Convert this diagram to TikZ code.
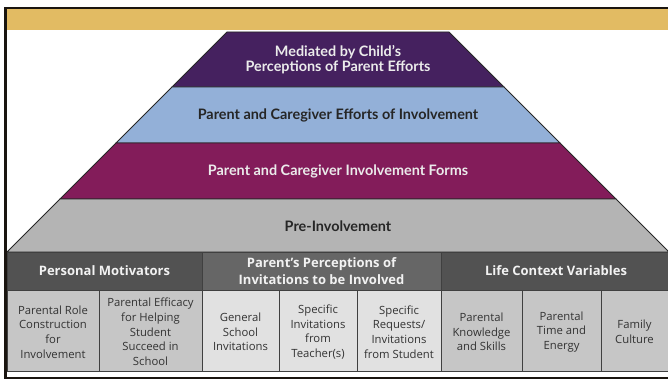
\documentclass[tikz,border=0pt]{standalone}
\usepackage{fontspec}
\newfontfamily\lato{Lato}
\newfontfamily\osans{Open Sans}
\definecolor{gold}{HTML}{E2BB63}
\definecolor{purp}{HTML}{45215F}
\definecolor{lblue}{HTML}{93B0D8}
\definecolor{magen}{HTML}{831C5A}
\definecolor{pgray}{HTML}{B4B4B4}
\definecolor{hdrA}{HTML}{525252}
\definecolor{hdrB}{HTML}{666666}
\definecolor{cellA}{HTML}{C6C6C6}
\definecolor{cellB}{HTML}{E1E1E1}
\definecolor{frame}{HTML}{1A1510}
\definecolor{celltext}{HTML}{333333}
\tikzset{
  band/.style={draw=black!85, line width=0.8pt, line join=miter},
  pyrlight/.style={font=\lato\bfseries\fontsize{14.4}{15.2}\selectfont, text=white!92!black, align=center, inner sep=0pt},
  pyrdark/.style={font=\lato\bfseries\fontsize{14.4}{15.2}\selectfont, text=black!85, align=center, inner sep=0pt},
  hdrbox/.style={draw=black!75, line width=0.6pt},
  cellbox/.style={draw=black!75, line width=0.6pt},
  hdrtext/.style={font=\osans\bfseries\fontsize{13}{16.8}\selectfont, text=white!95!black, align=center, inner sep=0pt},
  celltxt/.style={font=\osans\fontsize{11.3}{14.7}\selectfont, text=celltext, align=center, inner sep=0pt}
}
\begin{document}
\begin{tikzpicture}[x=1pt,y=-1pt]
\useasboundingbox (0,0) rectangle (668,382);
\fill[white] (0,0) rectangle (668,382);
% gold band
\fill[gold] (7,9.5) rectangle (668,30.5);
% pyramid bands
\filldraw[band, fill=purp]  (227,32) -- (449,32) -- (504,87) -- (172,87) -- cycle;
\filldraw[band, fill=lblue] (172,87) -- (504,87) -- (560,143) -- (116,143) -- cycle;
\filldraw[band, fill=magen] (116,143) -- (560,143) -- (616,199) -- (60,199) -- cycle;
\filldraw[band, fill=pgray] (60,199) -- (616,199) -- (669,252) -- (7,252) -- cycle;
\node[pyrlight] (p1) at (338,60) {Mediated by Child’s\\Perceptions of Parent Efforts};
\node[pyrdark]  (p2) at (338,115) {Parent and Caregiver Efforts of Involvement};
\node[pyrlight] (p3) at (338,171) {Parent and Caregiver Involvement Forms};
\node[pyrdark]  (p4) at (338,226) {Pre-Involvement};
% table headers
\filldraw[hdrbox, fill=hdrA] (7,252) rectangle (202,290);
\filldraw[hdrbox, fill=hdrB] (202,252) rectangle (441,290);
\filldraw[hdrbox, fill=hdrA] (441,252) rectangle (672,290);
\node[hdrtext] (h1) at (104.5,271) {Personal Motivators};
\node[hdrtext] (h2) at (321.5,271) {Parent’s Perceptions of\\Invitations to be Involved};
\node[hdrtext] (h3) at (556,271) {Life Context Variables};
% cells
\filldraw[cellbox, fill=cellA] (7,290) rectangle (99,371);
\filldraw[cellbox, fill=cellA] (99,290) rectangle (202,371);
\filldraw[cellbox, fill=cellB] (202,290) rectangle (279,371);
\filldraw[cellbox, fill=cellB] (279,290) rectangle (357,371);
\filldraw[cellbox, fill=cellB] (357,290) rectangle (441,371);
\filldraw[cellbox, fill=cellA] (441,290) rectangle (522,371);
\filldraw[cellbox, fill=cellA] (522,290) rectangle (601,371);
\filldraw[cellbox, fill=cellA] (601,290) rectangle (672,371);
\node[celltxt] (c1) at (53,332) {Parental Role\\Construction\\for\\Involvement};
\node[celltxt] (c2) at (150.5,332) {Parental Efficacy\\for Helping\\Student\\Succeed in\\School};
\node[celltxt] (c3) at (240.5,332) {General\\School\\Invitations};
\node[celltxt] (c4) at (318,332) {Specific\\Invitations\\from\\Teacher(s)};
\node[celltxt] (c5) at (399,332) {Specific\\Requests/\\Invitations\\from Student};
\node[celltxt] (c6) at (481.5,332) {Parental\\Knowledge\\and Skills};
\node[celltxt] (c7) at (561.5,332) {Parental\\Time and\\Energy};
\node[celltxt] (c8) at (634.5,332) {Family\\Culture};
% outer frame
\draw[frame, line width=2.6pt] (680,8.2) -- (5.5,8.2) -- (5.5,377.8) -- (680,377.8);
\end{tikzpicture}
\end{document}
